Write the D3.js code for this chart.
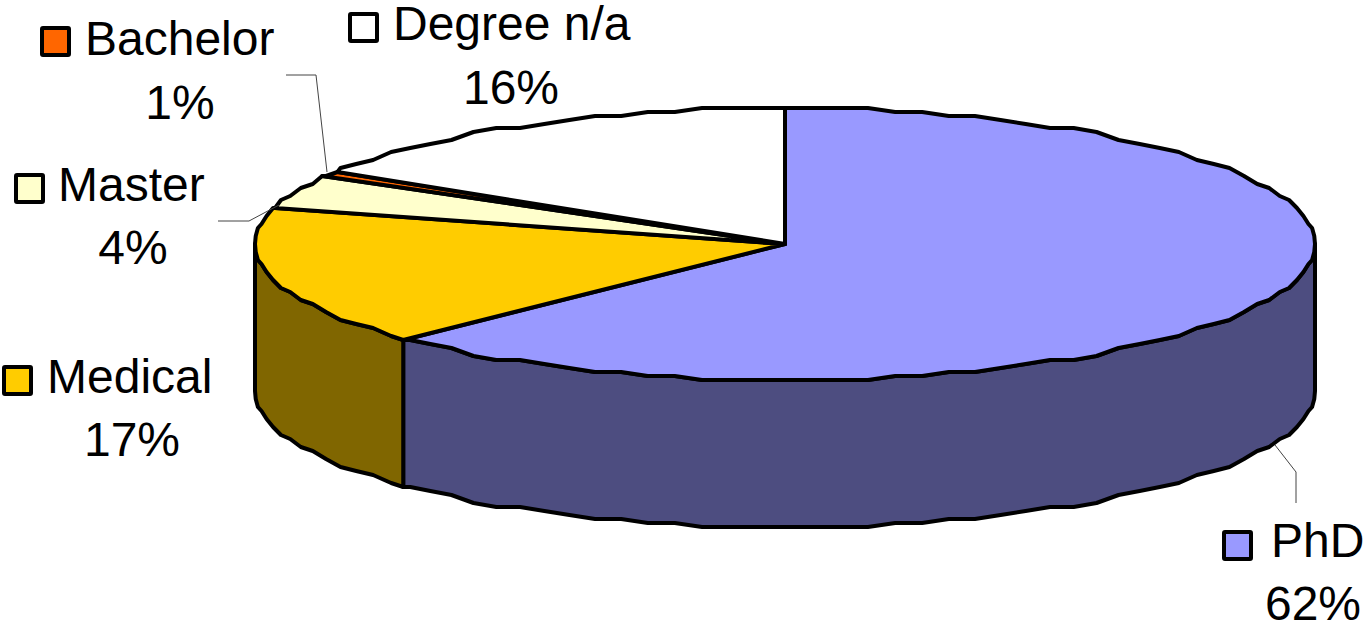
<!DOCTYPE html>
<html>
<head>
<meta charset="utf-8">
<script src="https://cdn.jsdelivr.net/npm/d3@7"></script>
<style>
  body { margin: 0; background: #fff; }
  text { font-family: "Liberation Sans", Arial, sans-serif; font-size: 48px; fill: #000; }
</style>
</head>
<body>
<div id="chart"></div>
<script>
// chart values
var categories = ["PhD", "Medical", "Master", "Bachelor", "Degree n/a"]
var shares = [62.8, 16.6, 3.7, 0.9, 16.0]
var pctLabels = ["62%", "17%", "4%", "1%", "16%"]

var topColors = ["#9999ff", "#ffcc00", "#ffffcc", "#ff6600", "#ffffff"]
var wallColors = ["#4d4d80", "#806600", "#80805f", "#803300", "#808080"]

// label layout: swatch left/top, name x/baseline, percent centre/baseline
var swatchPos = [[1224, 532], [4, 367], [16, 175], [42, 28], [350, 14]]
var namePos = [[1271, 557], [47, 393], [58, 201], [85, 55], [393, 40]]
var pctPos = [[1313, 620], [132, 456], [133, 264], [180, 119], [511, 104]]

// leader lines for the small / far slices
var leaders = [
  [[1275, 445], [1296, 472], [1296, 503]],
  [[218, 221], [249, 221], [279, 205]],
  [[286, 75], [316, 75], [327, 172]]
]

var width = 1364, height = 626
var cx = 785, cy = 244, rx = 530, ry = 136, depth = 147
var step = Math.PI / 60
var gridY = 4   // the rim of the original is stepped

var svg = d3.select("#chart").append("svg")
    .attr("width", width)
    .attr("height", height)
    .style("display", "block")

var pie = d3.pie().sort(null).startAngle(0).endAngle(2 * Math.PI)
var slices = pie(shares)

var line = d3.line()

// point on the tilted rim, angle clockwise from 12 o'clock
function rim(a, dy) {
  var x = cx + rx * Math.sin(a), y = cy - ry * Math.cos(a)
  return [x, Math.round(y / gridY) * gridY + (dy || 0)]
}

function arcPoints(a0, a1, dy) {
  // samples on a fixed angle grid so that neighbouring slices share a rim
  var first = Math.ceil(a0 / step + 0.001), last = Math.floor(a1 / step - 0.001)
  var pts = d3.range(first, last + 1).map(function(k) { return rim(k * step, dy) })
  return [rim(a0, dy)].concat(pts, [rim(a1, dy)])
}

// side walls, only the front half of the rim can be seen
var front = [Math.PI / 2, 3 * Math.PI / 2]
svg.append("g").selectAll("path")
    .data(slices.filter(function(d) { return d.endAngle > front[0] && d.startAngle < front[1] }))
    .enter().append("path")
    .attr("d", function(d) {
      var a0 = Math.max(d.startAngle, front[0]), a1 = Math.min(d.endAngle, front[1])
      return line(arcPoints(a0, a1, 0).concat(arcPoints(a0, a1, depth).reverse())) + "Z"
    })
    .attr("fill", function(d) { return wallColors[d.index] })
    .attr("stroke", "#000")
    .attr("stroke-width", 4)
    .attr("stroke-linejoin", "round")

// top face
svg.append("g").selectAll("path")
    .data(slices)
    .enter().append("path")
    .attr("d", function(d) {
      return line([[cx, cy]].concat(arcPoints(d.startAngle, d.endAngle, 0))) + "Z"
    })
    .attr("fill", function(d) { return topColors[d.index] })
    .attr("stroke", "#000")
    .attr("stroke-width", 4)
    .attr("stroke-linejoin", "round")

// leader lines
svg.append("g").selectAll("path")
    .data(leaders)
    .enter().append("path")
    .attr("d", line)
    .attr("fill", "none")
    .attr("stroke", "#444")
    .attr("stroke-width", 1)

// labels
var labels = svg.append("g").selectAll("g")
    .data(categories)
    .enter().append("g")

labels.append("rect")
    .attr("x", function(d, i) { return swatchPos[i][0] })
    .attr("y", function(d, i) { return swatchPos[i][1] })
    .attr("width", 27)
    .attr("height", 27)
    .attr("rx", 1)
    .attr("fill", function(d, i) { return topColors[i] })
    .attr("stroke", "#000")
    .attr("stroke-width", 4)

labels.append("text")
    .attr("x", function(d, i) { return namePos[i][0] })
    .attr("y", function(d, i) { return namePos[i][1] })
    .text(function(d) { return d })

labels.append("text")
    .attr("x", function(d, i) { return pctPos[i][0] })
    .attr("y", function(d, i) { return pctPos[i][1] })
    .attr("text-anchor", "middle")
    .text(function(d, i) { return pctLabels[i] })
</script>
</body>
</html>
